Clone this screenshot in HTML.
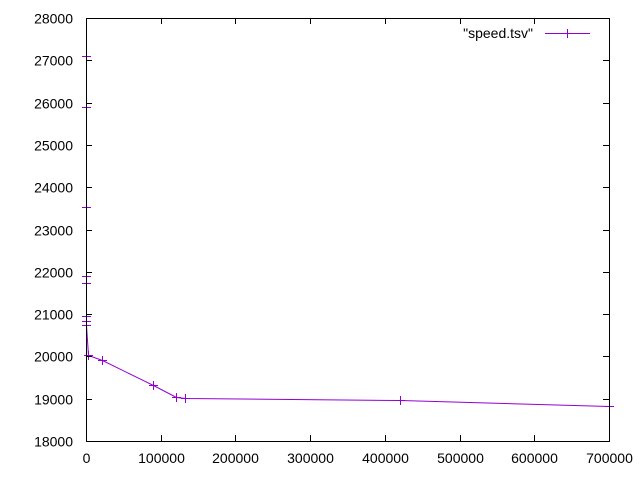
<!DOCTYPE html>
<html><head><meta charset="utf-8"><style>
body{margin:0;background:#fff;}
svg{display:block;font-family:"Liberation Sans",sans-serif;font-size:14px;}
</style></head><body>
<svg id="chart" width="640" height="480">
<rect width="640" height="480" fill="#fff"/>
<g id="series" shape-rendering="crispEdges"></g>
<g id="axes" shape-rendering="crispEdges"></g>
<g shape-rendering="crispEdges">
<text x="533" y="38" text-anchor="end">"speed.tsv"</text>
<line x1="545" y1="33.5" x2="590" y2="33.5" stroke="#9400d3" stroke-width="1"/>
<line x1="567.5" y1="29" x2="567.5" y2="38" stroke="#9400d3"/>
</g>
</svg>
<script>
const xVals=[0,0,0,0,0,0,0,0,3000,21000,89700,120500,132500,420000,700000];
const yVals=[27100,25900,23540,21900,21735,20955,20840,20740,20030,19910,19320,19040,19020,18970,18830];
const xTicks=[0,100000,200000,300000,400000,500000,600000,700000];
const yTicks=[18000,19000,20000,21000,22000,23000,24000,25000,26000,27000,28000];
const L=86,R=609,T=18,B=441;
const X=v=>L+(v/700000)*(R-L);
const Y=v=>B-(v-18000)/10000*(B-T);
const NS="http://www.w3.org/2000/svg";
const ax=document.getElementById('axes'),se=document.getElementById('series');
function mk(tag,attrs,parent){const e=document.createElementNS(NS,tag);for(const k in attrs)e.setAttribute(k,attrs[k]);parent.appendChild(e);return e;}
const frame=mk('rect',{x:L+0.5,y:T+0.5,width:R-L,height:B-T,fill:'none',stroke:'#000'},ax);


xTicks.forEach(t=>{const x=Math.round(X(t))+0.5;
 const l=mk('path',{d:`M${x} ${B}v-6M${x} ${T}v6`,stroke:'#000'},ax);
 
 
 const tx=mk('text',{x:x,y:B+22,'text-anchor':'middle'},ax);tx.textContent=t;
 
 
});
yTicks.forEach(t=>{const y=Math.round(Y(t))+0.5;
 const l=mk('path',{d:`M${L} ${y}h6M${R} ${y}h-6`,stroke:'#000'},ax);
 
 
 const tx=mk('text',{x:L-13,y:y+5,'text-anchor':'end'},ax);tx.textContent=t;
 
 
});
const pts=xVals.map((v,i)=>[Math.round(X(v))+0.5,Math.round(Y(yVals[i]))+0.5]);
const line=mk('polyline',{points:pts.map(p=>p.join(',')).join(' '),fill:'none',stroke:'#9400d3','shape-rendering':'auto'},se);


pts.forEach(p=>{
 const m=mk('path',{d:`M${p[0]-4.5} ${p[1]}h9M${p[0]} ${p[1]-4.5}v9`,stroke:'#9400d3'},se);
 
 
});
</script>
</body></html>
